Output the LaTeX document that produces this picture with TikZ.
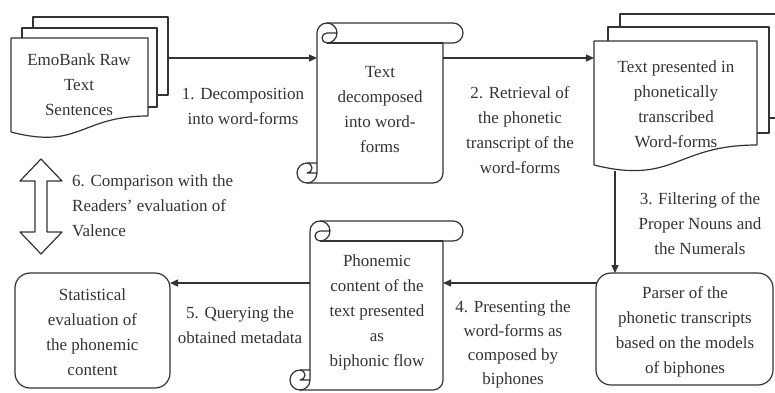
\documentclass[tikz,border=0pt]{standalone}
\usepackage{fontspec}
\setmainfont{Liberation Serif}
\usetikzlibrary{arrows.meta}
\newcommand{\myscroll}[4]{%
 \draw[shapeline] ({#1+20},{#4-20}) -- ({#1+20},{#3+10}) arc[start angle=180,end angle=270,radius=10] -- ({#2-10},#3) arc[start angle=270,end angle=450,radius=10] -- ({#2-20},{#3+20}) -- ({#2-20},{#4-10}) arc[start angle=0,end angle=90,radius=10] -- ({#1+10},#4) arc[start angle=90,end angle=270,radius=10] -- cycle;
 \draw[shapeline] ({#1+30},#3) arc[start angle=270,end angle=450,radius=10] arc[start angle=90,end angle=270,radius=5] -- ({#1+40},{#3+10});
 \draw[shapeline] ({#2-20},{#3+20}) -- ({#1+30},{#3+20});
 \draw[shapeline] ({#1+10},{#4-20}) arc[start angle=270,end angle=450,radius=5] -- ({#1+20},{#4-10});
 \draw[shapeline] ({#1+10},#4) arc[start angle=90,end angle=0,radius=10] -- ({#1+20},{#4-20});
}
\begin{document}
\begin{tikzpicture}[x=1pt,y=-1pt,
  shapeline/.style={draw=black!80, line width=1.2pt, line join=round},
  conn/.style={draw=black!80, line width=1.2pt, -{Triangle[length=8pt,width=7pt]}},
  txt/.style={font=\fontsize{17}{25}\selectfont, text=black!80, align=center, inner sep=0pt},
  rbox/.style={shapeline, rounded corners=15pt, txt}]
\useasboundingbox (0,0) rectangle (775,392);
\clip (0,0) rectangle (775,392);

% ---- multidocument 1 (EmoBank)
\draw[shapeline] (33,28) -- (33,17) -- (168,17) -- (168,95) -- (157,95);
\draw[shapeline] (22,38) -- (22,28) -- (157,28) -- (157,107) -- (148,107);
\draw[shapeline] (11,132) -- (11,38) -- (148,38) -- (148,116) .. controls (80,116) and (80,150) .. (11,132);
\node[txt] (emo) at (79,85) {EmoBank Raw\\Text\\Sentences};
\coordinate (emoR) at (168,58);

% ---- scroll 1
\myscroll{297}{463}{23}{183}
\node[txt] (dec) at (380,110) {Text\\decomposed\\into word-\\forms};
\coordinate (decL) at (317,58);
\coordinate (decR) at (443,58);

% ---- multidocument 2
\draw[shapeline] (620,27) -- (620,14) -- (785,14) -- (785,118) -- (769,118);
\draw[shapeline] (608,41) -- (608,27) -- (769,27) -- (769,133) -- (757,133);
\draw[shapeline] (594,165) -- (594,41) -- (757,41) -- (757,145) .. controls (675,145) and (675,185) .. (594,165);
\node[txt] (pho) at (676,104) {Text presented in\\phonetically\\transcribed\\Word-forms};
\coordinate (phoL) at (594,58);
\coordinate (phoB) at (615,171);

% ---- parser
\node[rbox, minimum width=177pt, minimum height=112pt] (par) at (684.5,329) {};
\node[txt] (partxt) at (685,332) {Parser of the\\phonetic transcripts\\based on the models\\of biphones};
\coordinate (parT) at (615,273);
\coordinate (parL) at (597,283);

% ---- scroll 2
\myscroll{290}{463}{221}{390}
\node[txt] (phon) at (377,312) {Phonemic\\content of the\\text presented\\as\\biphonic flow};
\coordinate (phonR) at (443,283);
\coordinate (phonL) at (310,283);

% ---- statistical
\node[rbox, minimum width=155pt, minimum height=115pt] (stat) at (92.5,330.5) {};
\node[txt] (stattxt) at (92.5,332) {Statistical\\evaluation of\\the phonemic\\content};
\coordinate (statR) at (170,283);

% ---- connectors
\draw[conn] (emoR) -- (decL);
\draw[conn] (decR) -- (phoL);
\draw[conn] (phoB) -- (parT);
\draw[conn] (parL) -- (phonR);
\draw[conn] (phonL) -- (statR);

% ---- double arrow
\draw[shapeline, fill=white] (41,159) -- (20,181) -- (35,181) -- (35,232) -- (20,232) -- (41,254) -- (62,232) -- (47,232) -- (47,181) -- (62,181) -- cycle;

% ---- labels
\node[txt] (l1) at (243,106.5) {1. Decomposition\\into word-forms};
\node[txt] (l2) at (520,130) {2. Retrieval of\\the phonetic\\transcript of the\\word-forms};
\node[txt] (l3) at (700,224) {3. Filtering of the\\Proper Nouns and\\the Numerals};
\node[txt, font=\fontsize{17}{24}\selectfont] (l4) at (513,344) {4. Presenting the\\word-forms as\\composed by\\biphones};
\node[txt] (l5) at (240,325) {5. Querying the\\obtained metadata};
\node[txt, align=left, anchor=west] (l6) at (72,206) {6. Comparison with the\\Readers' evaluation of\\Valence};
\end{tikzpicture}
\end{document}
